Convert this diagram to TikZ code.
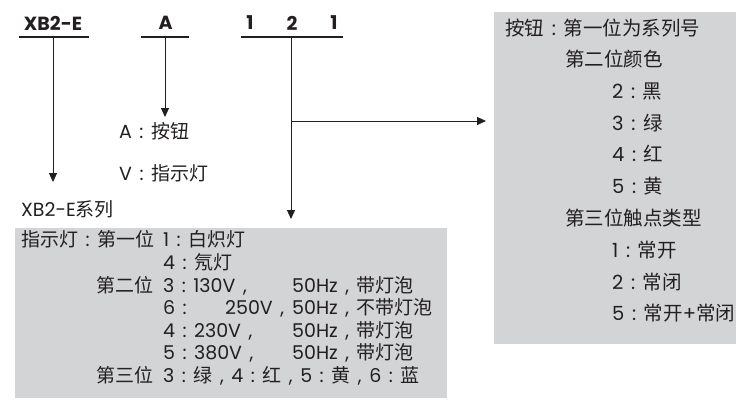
\documentclass[tikz,border=0pt]{standalone}
\usepackage{fontspec}
\setmainfont{Poppins}
\newfontfamily\cjk{Noto Sans CJK SC}
\usetikzlibrary{arrows.meta}
\definecolor{ink}{HTML}{231F20}
\definecolor{panelgray}{HTML}{D3D4D6}
\newcommand\zh[1]{{\cjk #1}}
\newcommand\co{\makebox[1em][c]{:}}
\newcommand\cm{\makebox[1em][c]{,}}
\newcommand\bodyfont{\fontsize{19}{22}\selectfont}
\newcommand\rightfont{\fontsize{19.5}{22}\selectfont}
\newcommand\hdrfont{\fontsize{19}{22}\selectfont\bfseries}
\tikzset{
  txt/.style={inner sep=0pt, anchor=west, text=ink, font=\bodyfont, text height=0.8em, text depth=0.2em},
  rtxt/.style={txt, font=\rightfont},
  hdr/.style={inner sep=0pt, text=ink, font=\hdrfont},
  bar/.style={draw=ink, line width=1.2pt},
  arr/.style={draw=ink, line width=1pt, -{Triangle[length=9pt,width=8pt]}},
  panel/.style={fill=panelgray, draw=none, inner sep=0pt, anchor=north west}
}
\begin{document}
\begin{tikzpicture}[x=1pt,y=-1pt]
\useasboundingbox (0,0) rectangle (736,405);
% panels
\node[panel, minimum width=432pt, minimum height=170pt] (pl) at (15,228) {};
\node[panel, minimum width=242pt, minimum height=332pt] (pr) at (494,12) {};
% header
\node[hdr] (h1) at (53,23) {XB2-E};
\node[hdr] (h2) at (165.5,23) {A};
\node[hdr] (h3a) at (250,23) {1};
\node[hdr] (h3b) at (292,23) {2};
\node[hdr] (h3c) at (334,23) {1};
\draw[bar] (19,37) -- (89,37);
\draw[bar] (141,37) -- (189,37);
\draw[bar] (241,37) -- (343,37);
% connectors
\coordinate (s1) at (53,37);   \coordinate (e1) at (53,182);
\coordinate (s2) at (165,37);  \coordinate (e2) at (165,117);
\coordinate (s3) at (291,37);  \coordinate (e3) at (291,219);
\coordinate (b3) at (291,121); \coordinate (e4) at (486,121);
\draw[arr] (s1) -- (e1);
\draw[arr] (s2) -- (e2);
\draw[arr] (s3) -- (e3);
\draw[arr] (b3) -- (e4);
% middle labels
\node[txt] (a1) at (119,135) {A\co\zh{按钮}};
\node[txt] (a2) at (119,177) {V\co\zh{指示灯}};
\node[txt] (ser) at (21,213) {XB2-E\zh{系列}};
% left panel
\node[txt] (l1a) at (21,243) {\zh{指示灯}\co\zh{第一位}};
\node[txt] (l1b) at (163,243) {1\co\zh{白炽灯}};
\node[txt] (l2) at (163,266) {4\co\zh{氖灯}};
\node[txt, anchor=east] (l3a) at (154,289) {\zh{第二位}};
\node[txt] (l3b) at (163,289) {3\co 130V\cm};
\node[txt] (l3c) at (292,289) {50Hz\cm\zh{带灯泡}};
\node[txt] (l4a) at (163,311) {6\co};
\node[txt, anchor=east] (l4b) at (292,311) {250V\cm};
\node[txt] (l4c) at (292,311) {50Hz\cm\zh{不带灯泡}};
\node[txt] (l5b) at (163,334) {4\co 230V\cm};
\node[txt] (l5c) at (292,334) {50Hz\cm\zh{带灯泡}};
\node[txt] (l6b) at (163,356) {5\co 380V\cm};
\node[txt] (l6c) at (292,356) {50Hz\cm\zh{带灯泡}};
\node[txt, anchor=east] (l7a) at (154,379) {\zh{第三位}};
\node[txt] (l7b) at (163,379) {3\co\zh{绿}\cm 4\co\zh{红}\cm 5\co\zh{黄}\cm 6\co\zh{蓝}};
% right panel
\node[rtxt] (r1) at (505,32) {\zh{按钮}\co\zh{第一位为系列号}};
\node[rtxt] (r2) at (565,63.7) {\zh{第二位颜色}};
\node[rtxt] (r3) at (612,95.4) {2\co\zh{黑}};
\node[rtxt] (r4) at (612,127) {3\co\zh{绿}};
\node[rtxt] (r5) at (612,158.8) {4\co\zh{红}};
\node[rtxt] (r6) at (612,190.5) {5\co\zh{黄}};
\node[rtxt] (r7) at (565,222) {\zh{第三位触点类型}};
\node[rtxt] (r8) at (612,254) {1\co\zh{常开}};
\node[rtxt] (r9) at (612,286) {2\co\zh{常闭}};
\node[rtxt] (r10) at (612,317.6) {5\co\zh{常开}+\zh{常闭}};
\end{tikzpicture}
\end{document}
